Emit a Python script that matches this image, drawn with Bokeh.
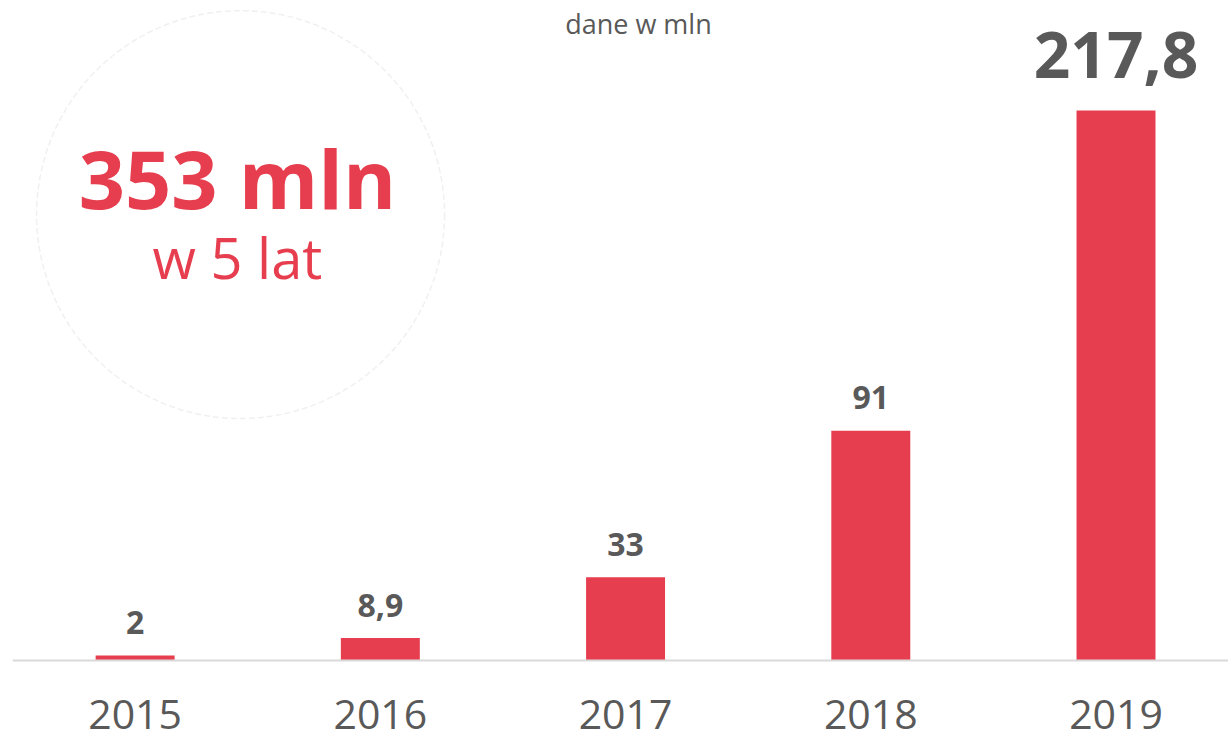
from bokeh.plotting import figure
from bokeh.models import Range1d, Label, ColumnDataSource, Span
from bokeh.core.properties import value
from bokeh.embed import file_html
from bokeh.resources import INLINE

# ---- data ----
years = ["2015", "2016", "2017", "2018", "2019"]
amounts = [2, 8.9, 33, 91, 217.8]
amount_labels = [f"{v:g}".replace(".", ",") for v in amounts]
total_text = "353 mln"
total_sub = "w 5 lat"
subtitle = "dane w mln"

RED = "#E63E4E"
GRAY = "#595959"
FONT = "Open Sans"

xs = list(range(len(years)))

p = figure(width=1228, height=741, output_backend="svg", toolbar_location=None,
           x_range=Range1d(-0.5, 4.4587), y_range=Range1d(-32.08, 261.4),
           min_border_left=12, min_border_right=0, min_border_top=0,
           min_border_bottom=0, x_axis_location=None, y_axis_location=None)
p.outline_line_color = None
p.background_fill_color = "white"
p.border_fill_color = "white"
p.xgrid.visible = False
p.ygrid.visible = False

# decorative faint circle
p.circle(x=[0.43], y=[176.6], radius=204, radius_units="screen",
         fill_color="white", line_color="#f0f0f0", line_width=1.5, line_dash="6 3")

# baseline
p.add_layout(Span(location=0, dimension="width", line_color="#d9d9d9", line_width=2))

src = ColumnDataSource(dict(x=xs, top=amounts, label=amount_labels))
p.vbar(x="x", top="top", bottom=0, width=0.322, source=src,
       fill_color=RED, line_color=None)

small = ColumnDataSource(dict(x=xs[:-1], y=amounts[:-1], label=amount_labels[:-1]))
big = ColumnDataSource(dict(x=xs[-1:], y=amounts[-1:], label=amount_labels[-1:]))
p.text(x="x", y="y", text="label", source=small, text_align="center",
       text_baseline="middle", y_offset=-33, text_font=value(FONT),
       text_font_style="bold", text_font_size="32px", text_color=GRAY)
p.text(x="x", y="y", text="label", source=big, text_align="center",
       text_baseline="middle", y_offset=-56, text_font=value(FONT),
       text_font_style="bold", text_font_size="64px", text_color=GRAY)

# year labels under the baseline
ysrc = ColumnDataSource(dict(x=xs, y=[0] * len(xs), year=years))
p.text(x="x", y="y", text="year", source=ysrc, text_align="center",
       text_baseline="middle", y_offset=54, text_font=value(FONT),
       text_font_size="41px", text_color=GRAY)

p.add_layout(Label(x=2.0525, y=252.3, text=subtitle, text_align="center",
                   text_baseline="middle", text_font=FONT,
                   text_font_size="27px", text_color=GRAY))
p.add_layout(Label(x=0.4174, y=191.1, text=total_text, text_align="center",
                   text_baseline="middle", text_font=FONT,
                   text_font_style="bold", text_font_size="81px", text_color=RED))
p.add_layout(Label(x=0.4174, y=160.0, text=total_sub, text_align="center",
                   text_baseline="middle", text_font=FONT,
                   text_font_size="56px", text_color=RED))

open("out.html", "w").write(file_html(p, INLINE))
